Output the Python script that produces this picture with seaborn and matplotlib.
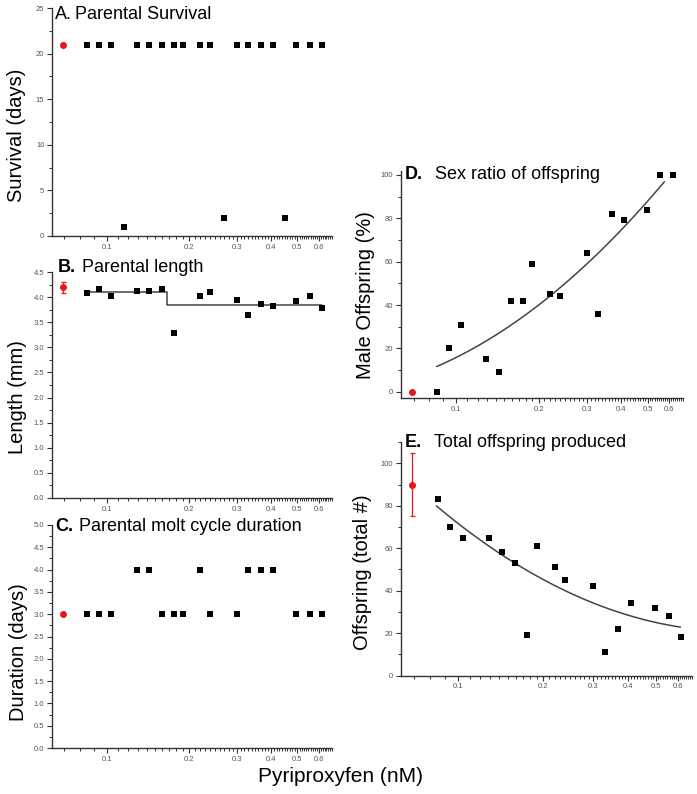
import numpy as np
import matplotlib
matplotlib.use("Agg")
import matplotlib.pyplot as plt
import seaborn as sns
from matplotlib.ticker import FixedLocator, NullFormatter, AutoMinorLocator, FormatStrFormatter

# pyriproxyfen concentrations (nM)
conc = [0.085, 0.094, 0.104, 0.116, 0.129, 0.143, 0.159, 0.176, 0.190, 0.220,
        0.240, 0.270, 0.300, 0.330, 0.369, 0.409, 0.452, 0.497, 0.556, 0.617]

nan = np.nan
survival = [21, 21, 21, 1, 21, 21, 21, 21, 21, 21, 21, 2, 21, 21, 21, 21, 2, 21, 21, 21]
length = [4.08, 4.16, 4.03, nan, 4.13, 4.13, 4.16, 3.29, nan, 4.03,
          4.10, nan, 3.95, 3.64, 3.86, 3.83, nan, 3.93, 4.03, 3.78]
duration = [3, 3, 3, nan, 4, 4, 3, 3, 3, 4, 3, nan, 3, 4, 4, 4, nan, 3, 3, 3]
male_pct = [0, 20, 31, nan, 15, 9, 42, 42, 59, 45, 44, nan, 64, 36, 82, 79, nan, 84, 100, 100]
offspring = [83, 70, 65, nan, 65, 58, 53, 19, 61, 51, 45, nan, 42, 11, 22, 34, nan, 32, 28, 18]

# controls (plotted left of the lowest dose)
ctrl_x = 0.069
ctrl_survival = 21
ctrl_length, ctrl_length_err = 4.2, 0.11
ctrl_duration = 3
ctrl_male = 0
ctrl_offspring, ctrl_offspring_err = 90, 15

# threshold fit for length
step_x = [0.085, 0.166, 0.166, 0.617]
step_y = [4.10, 4.10, 3.85, 3.85]

# fitted curves
d_fit_x = [0.085, 0.129, 0.202, 0.299, 0.409, 0.575]
d_fit_y = [11.3, 24.1, 40.2, 59.4, 74.7, 97.5]
e_fit_x = [0.084, 0.10, 0.20, 0.30, 0.40, 0.612]
e_fit_y = [79.8, 72.0, 45.2, 34.2, 28.7, 22.8]

xticks = [0.1, 0.2, 0.3, 0.4, 0.5, 0.6]
xtick_labels = ["0.1", "0.2", "0.3", "0.4", "0.5", "0.6"]

sns.set_style("ticks")
plt.rcParams["font.family"] = ["Liberation Sans", "DejaVu Sans"]
plt.rcParams["text.color"] = "black"
plt.rcParams["axes.labelcolor"] = "black"

fig = plt.figure(figsize=(6.97, 7.94), dpi=100)

red = "#e3191e"
gray = "#555555"


def style(ax, ylim, yticks, fmt, ylabel, labx, laby):
    ax.set_xscale("log")
    ax.set_xlim(0.063, 0.672)
    ax.xaxis.set_major_locator(FixedLocator(xticks))
    ax.set_xticklabels(xtick_labels)
    ax.xaxis.set_minor_locator(FixedLocator(np.arange(0.07, 0.67, 0.01)))
    ax.xaxis.set_minor_formatter(NullFormatter())
    ax.set_ylim(*ylim)
    ax.set_yticks(yticks)
    ax.yaxis.set_major_formatter(FormatStrFormatter(fmt))
    ax.yaxis.set_minor_locator(AutoMinorLocator(2))
    ax.tick_params(which="major", length=3.5, width=0.8, color="#333333",
                   labelsize=5.5, labelcolor=gray, pad=2)
    ax.tick_params(which="minor", length=2, width=0.7, color="#333333")
    for s in ["top", "right"]:
        ax.spines[s].set_visible(False)
    for s in ["left", "bottom"]:
        ax.spines[s].set_linewidth(1.0)
        ax.spines[s].set_color("#333333")
    ax.set_xlabel("")
    ax.set_ylabel(ylabel, fontsize=14.5, color="black")
    ax.yaxis.set_label_coords(labx, laby)


def title(ax, letter, rest, x, y, off, bold=True):
    ax.text(x, y, letter, transform=ax.transAxes, fontsize=13, color="black",
            fontweight="bold" if bold else "normal", va="center", ha="left")
    ax.annotate(rest, xy=(x, y), xycoords="axes fraction", xytext=(off * 0.72, 0),
                textcoords="offset points", fontsize=13, color="black",
                va="center", ha="left")


def squares(ax, y):
    sns.scatterplot(x=conc, y=y, marker="s", color="black", s=24,
                    linewidth=0, ax=ax, legend=False, zorder=3)


# A. survival
axA = fig.add_axes([0.0746, 0.7028, 0.402, 0.287])
squares(axA, survival)
axA.plot([ctrl_x], [ctrl_survival], "o", color=red, ms=4, zorder=3)
style(axA, (0, 25), [0, 5, 10, 15, 20, 25], "%d", "Survival (days)", -0.092, 0.44)
title(axA, "A.", "Parental Survival", 0.011, 0.972, 20, bold=False)

# B. length
axB = fig.add_axes([0.0746, 0.3728, 0.402, 0.2846])
sns.lineplot(x=step_x, y=step_y, sort=False, estimator=None, color="#444444",
             linewidth=1.1, ax=axB)
squares(axB, length)
axB.errorbar([ctrl_x], [ctrl_length], yerr=[ctrl_length_err], fmt="o", color=red,
             ms=4, capsize=1.8, elinewidth=0.9, capthick=0.9, zorder=3)
style(axB, (0, 4.5), np.arange(0, 4.51, 0.5), "%.1f", "Length (mm)", -0.09, 0.447)
title(axB, "B.", "Parental length", 0.022, 1.018, 24)

# C. molt cycle duration
axC = fig.add_axes([0.0746, 0.0579, 0.402, 0.2809])
squares(axC, duration)
axC.plot([ctrl_x], [ctrl_duration], "o", color=red, ms=4, zorder=3)
style(axC, (0, 5), np.arange(0, 5.01, 0.5), "%.1f", "Duration (days)", -0.086, 0.43)
title(axC, "C.", "Parental molt cycle duration", 0.011, 0.992, 24)

# D. sex ratio
axD = fig.add_axes([0.5753, 0.4984, 0.4046, 0.2867])
gx = np.geomspace(d_fit_x[0], d_fit_x[-1], 120)
cD = np.polyfit(np.log10(d_fit_x), d_fit_y, 2)
sns.lineplot(x=gx, y=np.polyval(cD, np.log10(gx)), color="#444444", linewidth=1.1, ax=axD)
squares(axD, male_pct)
axD.plot([ctrl_x], [ctrl_male], "o", color=red, ms=4, zorder=3)
style(axD, (-3, 102), [0, 20, 40, 60, 80, 100], "%d", "Male Offspring (%)", -0.092, 0.454)
title(axD, "D.", "Sex ratio of offspring", 0.014, 0.981, 30)

# E. total offspring
axE = fig.add_axes([0.5753, 0.149, 0.4175, 0.2943])
gx = np.geomspace(e_fit_x[0], e_fit_x[-1], 120)
cE = np.polyfit(np.log10(e_fit_x), e_fit_y, 2)
sns.lineplot(x=gx, y=np.polyval(cE, np.log10(gx)), color="#444444", linewidth=1.1, ax=axE)
squares(axE, offspring)
axE.errorbar([ctrl_x], [ctrl_offspring], yerr=[ctrl_offspring_err], fmt="o", color=red,
             ms=4, capsize=1.8, elinewidth=0.9, capthick=0.9, zorder=3)
style(axE, (0, 110), [0, 20, 40, 60, 80, 100], "%d", "Offspring (total #)", -0.10, 0.444)
title(axE, "E.", "Total offspring produced", 0.012, 1.0, 30)

fig.text(0.488, 0.022, "Pyriproxyfen (nM)", fontsize=15, ha="center", va="center",
         color="black")

fig.savefig("out.png", dpi=100)
